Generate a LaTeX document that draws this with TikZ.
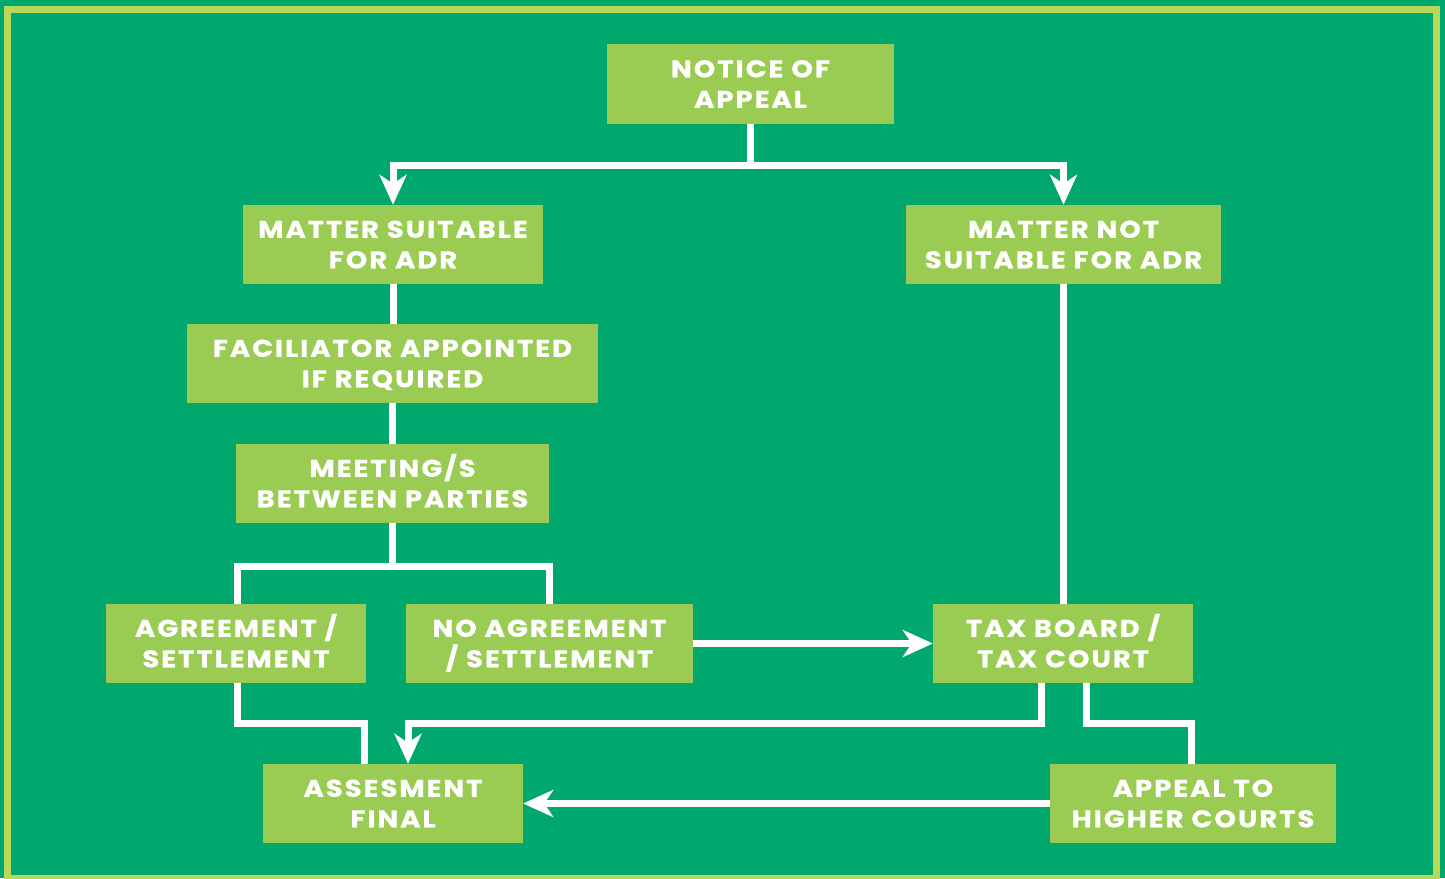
\documentclass[tikz,border=0pt]{standalone}
\usepackage{fontspec}
\setmainfont{Poppins}[FakeStretch=1.15, LetterSpace=8, FakeBold=0.6]
\usetikzlibrary{arrows.meta}
\definecolor{bggreen}{RGB}{0,168,110}
\definecolor{boxgreen}{RGB}{154,203,82}
\definecolor{bandgreen}{RGB}{184,216,90}
\tikzset{
  box/.style={fill=boxgreen, draw=none, text=white, align=center, inner sep=0pt,
    text height=47.5pt, text depth=0pt,
    font=\fontsize{24}{30.5}\selectfont\bfseries},
  conn/.style={draw=white, line width=7pt},
  arr/.style={conn, -{Stealth[length=30pt,width=27pt,inset=9pt]}}
}
\begin{document}
\begin{tikzpicture}[x=1pt,y=-1pt]
\fill[bggreen] (0,0) rectangle (1445,878);
\useasboundingbox (0,0) rectangle (1445,878);
\draw[bandgreen, line width=7pt] (7.5,9.5) rectangle (1436.5,878.5);

\node[box, minimum width=287pt, minimum height=80pt] (notice) at (750.5,84) {NOTICE OF\\APPEAL};
\node[box, minimum width=300pt, minimum height=79pt] (ms) at (393,244.5) {MATTER SUITABLE\\FOR ADR};
\node[box, minimum width=315pt, minimum height=79pt] (mns) at (1063.5,244.5) {MATTER NOT\\SUITABLE FOR ADR};
\node[box, minimum width=411pt, minimum height=79pt] (fac) at (392.5,363.5) {FACILIATOR APPOINTED\\IF REQUIRED};
\node[box, minimum width=313pt, minimum height=79pt] (meet) at (392.5,483.5) {MEETING/S\\BETWEEN PARTIES};
\node[box, minimum width=260pt, minimum height=79pt] (ag) at (236,643.5) {AGREEMENT /\\SETTLEMENT};
\node[box, minimum width=287pt, minimum height=79pt] (nag) at (549.5,643.5) {NO AGREEMENT\\/ SETTLEMENT};
\node[box, minimum width=260pt, minimum height=79pt] (tb) at (1063,643.5) {TAX BOARD /\\TAX COURT};
\node[box, minimum width=260pt, minimum height=79pt] (af) at (393,803.5) {ASSESMENT\\FINAL};
\node[box, minimum width=286pt, minimum height=79pt] (ah) at (1193,803.5) {APPEAL TO\\HIGHER COURTS};

\coordinate (j1) at (750.5,165);
\draw[arr] (notice.south) -- (j1) -| (ms.north);
\draw[arr] (j1) -| (mns.north);
\draw[conn] (ms.south) -- (ms.south |- fac.north);
\draw[conn] (fac.south) -- (fac.south |- meet.north);
\coordinate (j2) at (392.5,566);
\draw[conn] (meet.south) -- (j2) -| ([xshift=1pt]ag.north);
\draw[conn] (j2) -| (nag.north);
\coordinate (j3) at (364.5,723);
\draw[conn] ([xshift=1pt]ag.south) |- (j3) -- (j3 |- af.north);
\draw[arr] (nag.east) -- (tb.west);
\draw[conn] (mns.south) -- (mns.south |- tb.north);
\coordinate (j4) at (408,723);
\draw[arr] ([xshift=-22pt]tb.south) |- (j4) -- (j4 |- af.north);
\coordinate (j5) at (1191.5,723);
\draw[conn] ([xshift=23pt]tb.south) |- (j5) -- (j5 |- ah.north);
\draw[arr] (ah.west) -- (af.east);
\end{tikzpicture}
\end{document}
